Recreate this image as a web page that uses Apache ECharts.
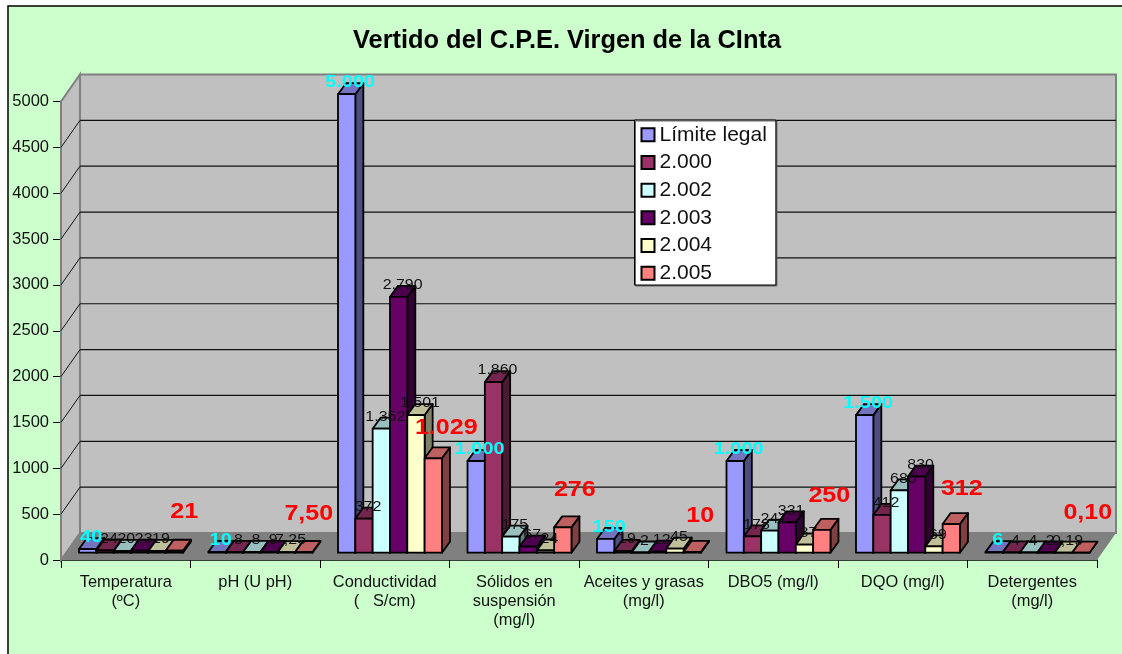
<!DOCTYPE html>
<html><head><meta charset="utf-8">
<style>html,body{margin:0;padding:0;background:#fff}#c{width:1122px;height:654px}</style>
<script src="https://cdn.jsdelivr.net/npm/echarts@6/dist/echarts.min.js"></script>
</head><body><div id="c"></div>
<script>
const categories = ['Temperatura\n(ºC)','pH (U pH)','Conductividad\n(   S/cm)','Sólidos en\nsuspensión\n(mg/l)','Aceites y grasas\n(mg/l)','DBO5 (mg/l)','DQO (mg/l)','Detergentes\n(mg/l)'];
const seriesNames = ['Límite legal','2.000','2.002','2.003','2.004','2.005'];
const limite = [40,10,5000,1000,150,1000,1500,6];
const y2000 = [24,8,372,1860,19,178,412,4];
const y2002 = [20,8,1352,175,2,241,680,4];
const y2003 = [23,9,2790,67,12,331,830,2];
const y2004 = [19,7.25,1501,24,45,87,69,0.19];
const y2005 = [21,7.5,1029,276,10,250,312,0.1];
const yTicks = [500,1000,1500,2000,2500,3000,3500,4000,4500];

const allValues = [limite,y2000,y2002,y2003,y2004,y2005];
const colors = ['#9999FF','#993366','#CCFFFF','#660066','#FFFFCC','#FF8080'];
// hand placement of the red 2.005 labels, relative to the top of their bar
const redShift = [[10,-39],[5,-38],[13,-30],[12,-37],[8,-36],[7.5,-34],[10.5,-35],[7,-40]];
const FONT = '"Liberation Sans", Arial, sans-serif';
const WALL = {dx:19, dy:-27};
const BAR = {dx:5, dy:-7.3, ddx:8, ddy:-11, inset:18, widthRatio:0.1338};

function fmt(v){
  if(Number.isInteger(v)) return String(v).replace(/\B(?=(\d{3})+$)/g,'.');
  return v.toFixed(2).replace('.',',');
}
function shade(hex,f){
  const n=parseInt(hex.slice(1),16);
  const c=[n>>16,(n>>8)&255,n&255].map(x=>Math.round(x*f));
  return `rgb(${c.join(',')})`;
}
const edge={stroke:'#000',lineWidth:1.8,lineJoin:'round'};

function wallsItem(params,api){
  const cs=params.coordSys;
  const L=cs.x,R=cs.x+cs.width,T=cs.y,B=cs.y+cs.height;
  const d=WALL;
  const grey={stroke:'#808080',lineWidth:2};
  const kids=[
    {type:'polygon',shape:{points:[[L,T],[L+d.dx,T+d.dy],[L+d.dx,B+d.dy],[L,B]]},style:Object.assign({fill:'#C0C0C0'},grey)},
    {type:'rect',shape:{x:L+d.dx,y:T+d.dy,width:cs.width,height:cs.height},style:Object.assign({fill:'#C0C0C0'},grey)},
    {type:'polygon',shape:{points:[[L,B],[R,B],[R+d.dx,B+d.dy],[L+d.dx,B+d.dy]]},style:{fill:'#808080'}}
  ];
  yTicks.forEach(v=>{
    const y=api.coord([0,v])[1];
    kids.push({type:'line',shape:{x1:L+d.dx,y1:y+d.dy,x2:R+d.dx,y2:y+d.dy},style:{stroke:'#111',lineWidth:1.2}});
    kids.push({type:'line',shape:{x1:L,y1:y,x2:L+d.dx,y2:y+d.dy},style:{stroke:'#111',lineWidth:1}});
  });
  return {type:'group',children:kids};
}

function barItem(s){
  return function(params,api){
    const i=api.value(0),v=api.value(1);
    const band=api.size([1,0])[0];
    const w=band*BAR.widthRatio;
    const c=api.coord([i,v]),z=api.coord([i,0]);
    const x0=z[0]-band/2+BAR.inset+s*w, x1=x0+w;
    const top=c[1]+BAR.dy, base=z[1]+BAR.dy;
    const ddx=BAR.ddx,ddy=BAR.ddy;
    const col=colors[s];
    const cx=(x0+x1)/2;
    let text;
    if(s===5){
      const sh=redShift[i];
      text={type:'text',x:cx+sh[0],y:top+sh[1],scaleX:1.14,z2:120,
        style:{text:fmt(v),fill:'#FF0000',font:'bold 22px '+FONT,textAlign:'center',textVerticalAlign:'middle'}};
    }else if(s===0){
      text={type:'text',x:cx+3.5,y:top-11.5,scaleX:1.17,z2:110,
        style:{text:fmt(v),fill:'#00FFFF',font:'bold 17px '+FONT,textAlign:'center',textVerticalAlign:'middle'}};
    }else{
      text={type:'text',x:cx+4,y:top-11.5,scaleX:1.14,z2:100,
        style:{text:fmt(v),fill:'#111',font:'14px '+FONT,textAlign:'center',textVerticalAlign:'middle'}};
    }
    return {type:'group',children:[
      {type:'polygon',shape:{points:[[x1,top],[x1+ddx,top+ddy],[x1+ddx,base+ddy],[x1,base]]},style:Object.assign({fill:shade(col,0.5)},edge)},
      {type:'polygon',shape:{points:[[x0,top],[x0+ddx,top+ddy],[x1+ddx,top+ddy],[x1,top]]},style:Object.assign({fill:shade(col,0.75)},edge)},
      {type:'rect',shape:{x:x0,y:top,width:w,height:base-top},style:Object.assign({fill:col},edge)},
      text
    ]};
  };
}

const series=[{type:'custom',name:'walls',silent:true,z:1,clip:false,data:[[0,0]],encode:{x:0,y:1},renderItem:wallsItem}];
seriesNames.forEach((name,s)=>{
  series.push({type:'custom',name,z:2,clip:false,silent:true,
    itemStyle:{color:colors[s],borderColor:'#000',borderWidth:1.5},
    data:allValues[s].map((v,i)=>[i,v]),encode:{x:0,y:1},renderItem:barItem(s)});
});

const chart=echarts.init(document.getElementById('c'),null,{renderer:'canvas'});
chart.setOption({
  animation:false,
  backgroundColor:'#fff',
  textStyle:{fontFamily:FONT},
  graphic:[{type:'rect',z:0,silent:true,shape:{x:8,y:6,width:1130,height:670},style:{fill:'#CCFFCC',stroke:'#000',lineWidth:1.5}}],
  title:{text:'Vertido del C.P.E. Virgen de la CInta',left:562,top:23,textAlign:'center',
    textStyle:{fontFamily:FONT,fontWeight:'bold',fontSize:25.4,color:'#000'}},
  grid:{left:61,top:101.5,width:1036,height:458.5},
  xAxis:{type:'category',data:categories,boundaryGap:true,
    axisLine:{lineStyle:{color:'#000',width:1.5}},
    axisTick:{show:true,length:8,alignWithLabel:false,lineStyle:{color:'#000',width:1}},
    axisLabel:{interval:0,margin:13,color:'#111',fontFamily:FONT,fontSize:16.4,lineHeight:19},
    splitLine:{show:false}},
  yAxis:{type:'value',min:0,max:5000,interval:500,
    axisLine:{show:true,lineStyle:{color:'#000',width:1.5}},
    axisTick:{show:true,length:8,lineStyle:{color:'#000',width:1}},
    axisLabel:{margin:12,color:'#111',fontFamily:FONT,fontSize:16.5,formatter:v=>String(v)},
    splitLine:{show:false}},
  legend:{data:seriesNames,orient:'vertical',left:634.5,top:120,
    padding:[4.25,9,1.25,6],itemGap:6.7,itemWidth:13,itemHeight:13,
    backgroundColor:'#fff',borderColor:'#000',borderWidth:1,
    shadowColor:'#666',shadowOffsetX:1,shadowOffsetY:1,shadowBlur:0,
    selectedMode:false,icon:'rect',align:'left',
    textStyle:{fontFamily:FONT,fontSize:21,color:'#111',lineHeight:19}},
  series
});
</script></body></html>
